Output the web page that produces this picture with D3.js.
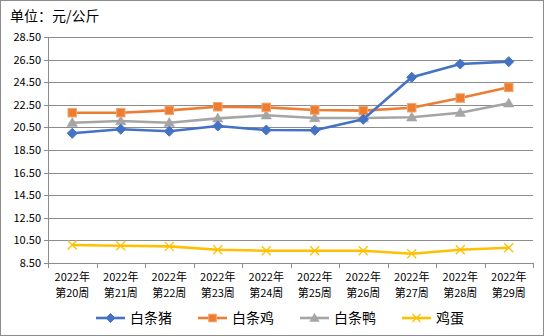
<!DOCTYPE html>
<html>
<head>
<meta charset="utf-8">
<script src="https://cdn.jsdelivr.net/npm/d3@7"></script>
<style>
  html, body { margin: 0; padding: 0; background: #fff; }
  svg { display: block; }
  text { font-family: "Noto Sans CJK SC", "DejaVu Sans", sans-serif; fill: #000; }
</style>
</head>
<body>
<svg id="chart" width="544" height="336"></svg>
<script>
// Weekly wholesale prices, yuan per kg
const weeks = ["第20周", "第21周", "第22周", "第23周", "第24周", "第25周", "第26周", "第27周", "第28周", "第29周"];
const yearLabel = "2022年";
const pork    = [19.98, 20.34, 20.16, 20.63, 20.27, 20.25, 21.22, 24.95, 26.13, 26.34];
const chicken = [21.81, 21.81, 22.02, 22.34, 22.28, 22.05, 21.99, 22.25, 23.11, 24.06];
const duck    = [20.92, 21.07, 20.92, 21.31, 21.58, 21.34, 21.34, 21.40, 21.81, 22.64];
const eggs    = [10.07, 10.01, 9.95, 9.65, 9.56, 9.56, 9.56, 9.30, 9.65, 9.83];
const yTicks  = [8.5, 10.5, 12.5, 14.5, 16.5, 18.5, 20.5, 22.5, 24.5, 26.5, 28.5];
const seriesNames = ["白条猪", "白条鸡", "白条鸭", "鸡蛋"];

const series = [
  { name: seriesNames[0], values: pork,    color: "#4472C4", marker: "diamond" },
  { name: seriesNames[1], values: chicken, color: "#ED7D31", marker: "square" },
  { name: seriesNames[2], values: duck,    color: "#A5A5A5", marker: "triangle" },
  { name: seriesNames[3], values: eggs,    color: "#FFC000", marker: "cross" }
];

const svg = d3.select("#chart");
const W = 544, H = 336;
const plot = { left: 48, right: 533, top: 37.3, bottom: 262.7 };
const gridColor = "#8c8c8c";

// outer frame
svg.append("rect")
  .attr("x", 0.5).attr("y", 0.5).attr("width", W - 1).attr("height", H - 1)
  .attr("fill", "#fff").attr("stroke", "#8c8c8c").attr("stroke-width", 1);

// unit caption
svg.append("text")
  .attr("x", 10).attr("y", 21)
  .attr("font-size", 14)
  .text("单位：元/公斤");

const x = d3.scaleBand().domain(weeks).range([plot.left, plot.right]).padding(0);
const y = d3.scaleLinear().domain([8.5, 28.5]).range([plot.bottom, plot.top]);

// horizontal gridlines
svg.append("g")
  .selectAll("line")
  .data(yTicks)
  .join("line")
  .attr("x1", plot.left - 4).attr("x2", plot.right)
  .attr("y1", d => Math.round(y(d)) + 0.5).attr("y2", d => Math.round(y(d)) + 0.5)
  .attr("stroke", gridColor).attr("stroke-width", 1);

// y axis labels
const yAxis = d3.axisLeft(y).tickValues(yTicks).tickFormat(d3.format(".2f")).tickSize(0).tickPadding(7);
const yg = svg.append("g").attr("transform", `translate(${plot.left},0)`).call(yAxis);
yg.select(".domain").remove();
yg.selectAll("text").attr("font-size", 11).attr("font-family", "\"Liberation Mono\", \"DejaVu Sans Mono\", monospace").attr("fill", "#000");

// y axis line
svg.append("line")
  .attr("x1", plot.left + 0.5).attr("x2", plot.left + 0.5)
  .attr("y1", plot.top).attr("y2", plot.bottom + 4)
  .attr("stroke", gridColor);

// x axis: ticks on category boundaries
const bounds = weeks.map(w => x(w)).concat([plot.right]);
svg.append("g")
  .selectAll("line")
  .data(bounds)
  .join("line")
  .attr("x1", d => Math.round(d) + 0.5).attr("x2", d => Math.round(d) + 0.5)
  .attr("y1", Math.round(y(8.5))).attr("y2", Math.round(y(8.5)) + 5)
  .attr("stroke", gridColor);

// x axis category labels (two lines)
const xl = svg.append("g").selectAll("text")
  .data(weeks)
  .join("text")
  .attr("x", d => x(d) + x.bandwidth() / 2)
  .attr("text-anchor", "middle")
  .attr("font-size", 11);
xl.append("tspan").attr("x", d => x(d) + x.bandwidth() / 2).attr("y", 281).text(yearLabel);
xl.append("tspan").attr("x", d => x(d) + x.bandwidth() / 2).attr("y", 297).text(d => d);

// marker drawing
function drawMarker(g, type, color, cx, cy, s) {
  if (type === "diamond") {
    g.append("path")
      .attr("d", `M${cx},${cy - s}L${cx + s},${cy}L${cx},${cy + s}L${cx - s},${cy}Z`)
      .attr("fill", color).attr("stroke", color).attr("stroke-width", 1);
  } else if (type === "square") {
    g.append("rect")
      .attr("x", cx - s * 0.85).attr("y", cy - s * 0.85)
      .attr("width", s * 1.7).attr("height", s * 1.7)
      .attr("fill", color).attr("stroke", "#F4A46E").attr("stroke-width", 1);
  } else if (type === "triangle") {
    g.append("path")
      .attr("d", `M${cx},${cy - s * 1.05}L${cx + s * 1.05},${cy + s * 0.75}L${cx - s * 1.05},${cy + s * 0.75}Z`)
      .attr("fill", color).attr("stroke", color).attr("stroke-width", 0.5);
  } else if (type === "cross") {
    const r = s * 0.9;
    g.append("path")
      .attr("d", `M${cx - r},${cy - r}L${cx + r},${cy + r}M${cx - r},${cy + r}L${cx + r},${cy - r}`)
      .attr("stroke", color).attr("stroke-width", 1.3).attr("fill", "none");
  }
}

const line = d3.line()
  .x((d, i) => x(weeks[i]) + x.bandwidth() / 2)
  .y(d => y(d));

// draw series back to front so pork sits on top
const order = [3, 2, 1, 0];
order.forEach(k => {
  const s = series[k];
  const g = svg.append("g");
  g.append("path")
    .datum(s.values)
    .attr("d", line)
    .attr("fill", "none")
    .attr("stroke", s.color)
    .attr("stroke-width", 2.6)
    .attr("stroke-linejoin", "round");
  s.values.forEach((v, i) => {
    drawMarker(g, s.marker, s.color, x(weeks[i]) + x.bandwidth() / 2, y(v), 5);
  });
});

// legend
const legendX = [96, 198, 300, 402];
const legendY = 318;
series.forEach((s, i) => {
  const g = svg.append("g");
  const x0 = legendX[i];
  g.append("line")
    .attr("x1", x0).attr("x2", x0 + 29)
    .attr("y1", legendY).attr("y2", legendY)
    .attr("stroke", s.color).attr("stroke-width", 2.6);
  drawMarker(g, s.marker, s.color, x0 + 14.5, legendY, 4.5);
  g.append("text")
    .attr("x", x0 + 34).attr("y", legendY + 5)
    .attr("font-size", 14)
    .text(s.name);
});
</script>
</body>
</html>
